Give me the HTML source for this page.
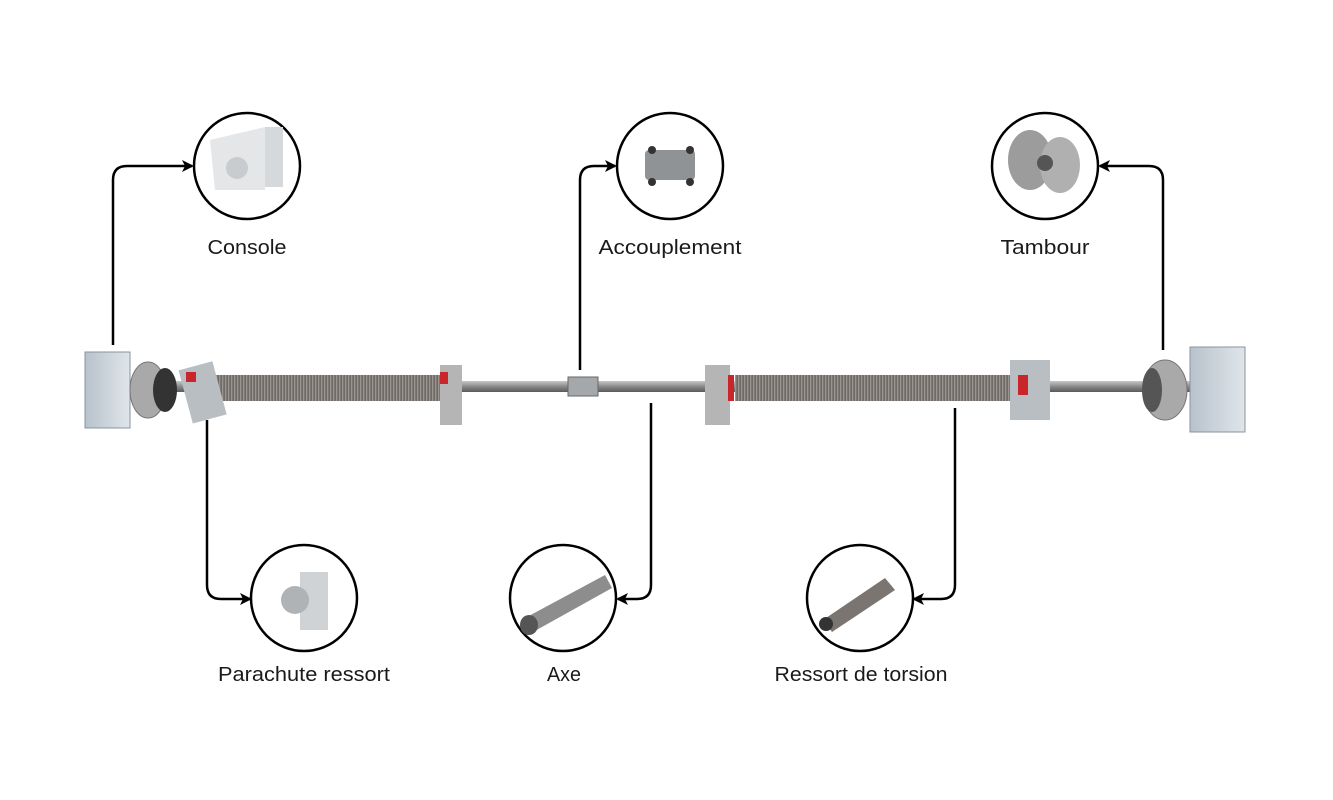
<!DOCTYPE html>
<html><head><meta charset="utf-8"><style>
html,body{margin:0;padding:0;background:#fff;}
svg{display:block;}
text{font-family:"Liberation Sans",sans-serif;font-size:20px;fill:#1a1a1a;text-anchor:middle;}
</style></head><body>
<svg width="1333" height="800" viewBox="0 0 1333 800" xmlns="http://www.w3.org/2000/svg">
<defs>
<marker id="a" markerWidth="12" markerHeight="12" refX="10" refY="6" orient="auto" markerUnits="userSpaceOnUse">
<path d="M0,0 L12,6 L0,12 L3,6 Z" fill="#000"/></marker>
<pattern id="sp" width="3" height="30" patternUnits="userSpaceOnUse">
<rect width="3" height="30" fill="#6e6a66"/><rect width="1.3" height="30" fill="#9a9590"/></pattern>
<linearGradient id="sh" x1="0" y1="0" x2="0" y2="1"><stop offset="0" stop-color="#c8c8c8"/><stop offset=".5" stop-color="#8a8a8a"/><stop offset="1" stop-color="#5a5a5a"/></linearGradient>
<linearGradient id="br" x1="0" y1="0" x2="1" y2="0"><stop offset="0" stop-color="#b8c2cc"/><stop offset="1" stop-color="#dfe5ea"/></linearGradient>
</defs>
<g fill="none" stroke="#000" stroke-width="2.5">
<path d="M113,345 V180 Q113,166 127,166 H192" marker-end="url(#a)"/>
<path d="M580,370 V180 Q580,166 594,166 H615" marker-end="url(#a)"/>
<path d="M1163,350 V180 Q1163,166 1149,166 H1100" marker-end="url(#a)"/>
<path d="M207,420 V585 Q207,599 221,599 H250" marker-end="url(#a)"/>
<path d="M651,403 V585 Q651,599 637,599 H618" marker-end="url(#a)"/>
<path d="M955,408 V585 Q955,599 941,599 H914" marker-end="url(#a)"/>
</g>
<rect x="90" y="381" width="1155" height="11" fill="url(#sh)"/>
<rect x="215" y="375" width="230" height="26" fill="url(#sp)"/>
<rect x="735" y="375" width="285" height="26" fill="url(#sp)"/>
<rect x="85" y="352" width="45" height="76" fill="url(#br)" stroke="#8a949c"/>
<ellipse cx="148" cy="390" rx="18" ry="28" fill="#a9a9a9" stroke="#777"/>
<ellipse cx="165" cy="390" rx="12" ry="22" fill="#333"/>
<rect x="185" y="365" width="35" height="55" fill="#b9bec2" transform="rotate(-15 202 392)"/>
<rect x="186" y="372" width="10" height="10" fill="#c8262b"/>
<rect x="440" y="365" width="22" height="60" fill="#b5b5b5"/>
<rect x="440" y="372" width="8" height="12" fill="#c8262b"/>
<rect x="568" y="377" width="30" height="19" fill="#a5a8ab" stroke="#666"/>
<rect x="705" y="365" width="25" height="60" fill="#b5b5b5"/>
<rect x="728" y="375" width="6" height="26" fill="#c8262b"/>
<rect x="1010" y="360" width="40" height="60" fill="#b9bec2"/>
<rect x="1018" y="375" width="10" height="20" fill="#c8262b"/>
<ellipse cx="1165" cy="390" rx="22" ry="30" fill="#a9a9a9" stroke="#777"/>
<ellipse cx="1152" cy="390" rx="10" ry="22" fill="#555"/>
<rect x="1190" y="347" width="55" height="85" fill="url(#br)" stroke="#8a949c"/>
<g fill="#fff" stroke="#000" stroke-width="2.5">
<circle cx="247" cy="166" r="53"/><circle cx="670" cy="166" r="53"/><circle cx="1045" cy="166" r="53"/>
<circle cx="304" cy="598" r="53"/><circle cx="563" cy="598" r="53"/><circle cx="860" cy="598" r="53"/>
</g>
<g>
<path d="M210,140 L265,127 L265,190 L215,190 Z" fill="#e4e6e8"/><rect x="265" y="127" width="18" height="60" fill="#d6d9dc"/><circle cx="237" cy="168" r="11" fill="#c9cccf"/>
<rect x="645" y="150" width="50" height="30" rx="4" fill="#8f9396"/><circle cx="652" cy="150" r="4" fill="#333"/><circle cx="690" cy="150" r="4" fill="#333"/><circle cx="652" cy="182" r="4" fill="#333"/><circle cx="690" cy="182" r="4" fill="#333"/>
<ellipse cx="1030" cy="160" rx="22" ry="30" fill="#9c9c9c"/><ellipse cx="1060" cy="165" rx="20" ry="28" fill="#b0b0b0"/><circle cx="1045" cy="163" r="8" fill="#555"/>
<rect x="300" y="572" width="28" height="58" fill="#cfd3d6"/><circle cx="295" cy="600" r="14" fill="#b0b3b6"/>
<path d="M525,618 L605,575 L612,588 L533,632 Z" fill="#8d8d8d"/><ellipse cx="529" cy="625" rx="9" ry="10" fill="#555"/>
<path d="M823,620 L885,578 L895,590 L832,632 Z" fill="#7a7570"/><circle cx="826" cy="624" r="7" fill="#333"/>
</g>
<text x="247" y="254" textLength="79" lengthAdjust="spacingAndGlyphs">Console</text>
<text x="670" y="254" textLength="143" lengthAdjust="spacingAndGlyphs">Accouplement</text>
<text x="1045" y="254" textLength="89" lengthAdjust="spacingAndGlyphs">Tambour</text>
<text x="304" y="681" textLength="172" lengthAdjust="spacingAndGlyphs">Parachute ressort</text>
<text x="564" y="681" textLength="34" lengthAdjust="spacingAndGlyphs">Axe</text>
<text x="861" y="681" textLength="173" lengthAdjust="spacingAndGlyphs">Ressort de torsion</text>
</svg>
</body></html>
